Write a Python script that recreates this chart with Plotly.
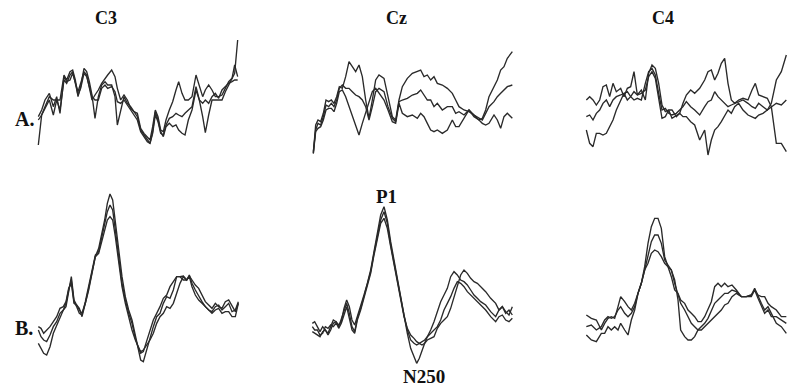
import plotly.graph_objects as go

# ---------------- DATA (sample position, amplitude readings; larger value = lower on page) -------------
# Row A: single-trial / raw averages
c3_a_t = [115,125,135,148,160,170,180,192,200,210,218,226,234,242,252,260,268,276,285,295,
          305,315,323,335,345,352,362,372,382,392,402,412,422,432,442,450,458,466,474,482,
          490,498,508,518,528,536,546,555,565,576,588,598,608,616,626,636,646,656,666,676,
          686,696,704,713]
c3_a_1 = [435,345,320,290,300,300,300,225,240,215,210,240,290,260,205,215,245,285,355,290,
          255,245,255,255,290,375,330,290,310,320,335,350,390,405,420,430,395,335,360,395,
          410,380,370,380,375,390,400,405,360,330,270,300,350,398,345,300,300,300,300,275,
          255,240,220,120]
c3_a_2 = [350,330,300,280,320,290,340,230,245,240,220,245,275,250,215,225,260,300,285,270,
          250,235,225,210,230,265,300,285,300,325,335,340,385,400,410,420,380,330,350,390,
          395,360,330,305,270,245,280,300,300,290,225,255,290,270,255,270,290,290,285,265,
          245,235,195,230]
c3_a_3 = [360,345,325,300,345,300,330,240,250,225,215,250,285,265,220,230,265,290,300,300,
          265,255,265,260,275,305,310,300,315,330,345,360,395,410,425,430,400,345,365,400,
          405,375,355,350,340,345,350,340,330,320,260,300,310,300,310,290,280,295,270,260,
          250,245,240,240]

cz_a_t = [148,155,162,170,178,186,194,202,210,218,226,235,245,255,265,275,285,295,305,315,
          325,335,345,360,372,385,395,405,415,430,445,460,470,480,490,500,510,520,535,550,
          565,575,585,600,615,630,645,655,665,675,690,700,710,720,730,745]
cz_a_1 = [460,375,360,365,340,300,305,300,310,290,260,265,230,185,200,215,195,230,300,355,
          300,240,225,235,290,350,360,300,260,235,220,215,210,230,225,240,230,250,255,265,
          280,300,320,330,335,345,360,355,330,290,260,240,210,200,175,155]
cz_a_2 = [455,390,370,375,350,315,320,310,320,300,265,255,265,265,275,285,290,300,320,360,
          320,275,265,275,320,355,365,305,300,295,285,280,270,285,300,300,320,310,330,320,
          320,340,335,345,330,345,355,360,340,320,305,290,280,270,260,255]
cz_a_3 = [460,395,385,380,360,330,325,325,335,310,275,270,290,320,350,380,405,370,340,310,
          275,265,280,300,330,365,370,310,340,350,345,355,340,350,370,390,395,390,400,390,
          360,380,380,355,330,350,360,370,375,370,345,360,385,350,340,355]

c4_a_t = [175,185,195,205,215,225,235,245,255,265,278,288,298,308,318,328,340,352,362,372,
          382,392,402,412,422,432,445,455,465,475,488,500,515,530,540,550,560,570,580,590,
          600,610,620,632,645,660,672,682,692,705,718,730,745,760,775]
c4_a_1 = [300,290,300,315,300,260,255,290,250,275,265,290,265,260,215,285,270,300,220,195,
          205,250,315,335,330,330,350,340,310,285,270,280,265,240,215,210,240,220,190,175,
          250,300,310,300,295,300,270,250,285,290,295,320,430,430,455]
c4_a_2 = [350,345,360,340,330,310,300,320,300,290,285,280,275,290,300,295,300,250,215,205,
          225,280,330,325,340,345,340,330,320,305,320,330,345,320,305,300,275,290,300,310,
          320,315,310,305,300,310,320,325,310,320,330,310,240,215,165]
c4_a_3 = [390,430,440,400,400,405,400,380,360,330,300,280,300,290,275,285,280,270,230,215,
          235,300,355,350,330,355,345,340,350,350,365,375,420,390,465,420,390,380,365,345,
          330,340,320,310,330,345,350,355,345,340,330,320,310,315,300]

# Row B: grand averages
c3_b_t = [115,123,131,140,150,160,170,180,190,198,206,214,222,230,238,246,256,266,276,286,
          296,306,314,322,330,338,346,356,366,376,386,396,406,414,422,430,440,450,460,470,
          480,490,500,510,520,530,540,550,560,568,576,586,596,606,616,626,636,646,656,666,
          676,686,696,706,715]
c3_b_1 = [520,535,550,555,530,490,465,440,420,410,370,320,390,405,420,430,400,355,310,260,
          235,190,150,100,72,90,160,250,320,380,420,450,500,540,570,575,540,500,470,440,
          430,400,380,385,360,320,320,330,330,315,340,360,380,395,410,420,425,410,405,420,
          410,400,425,420,395]
c3_b_2 = [480,500,510,515,495,470,455,430,420,400,360,330,395,410,430,435,395,350,300,255,
          245,200,165,125,105,120,180,270,340,390,430,460,505,530,550,545,515,480,450,430,
          410,385,375,350,335,320,320,318,330,318,330,345,355,375,395,405,415,400,410,415,
          395,390,410,425,400]
c3_b_3 = [470,475,490,480,470,455,440,415,410,395,355,340,400,405,415,440,400,360,310,260,
          250,210,180,150,140,150,200,280,350,400,440,480,510,530,545,540,525,510,490,460,
          440,430,410,415,400,370,340,320,330,320,350,375,390,400,410,420,430,420,415,430,
          425,425,440,440,400]

cz_b_t = [145,152,160,168,176,184,192,200,208,216,224,232,240,248,256,264,272,280,290,300,
          310,320,330,340,350,360,370,380,390,400,410,420,430,440,450,458,466,474,482,490,
          500,510,520,530,540,550,560,570,580,590,600,610,620,630,640,650,665,680,695,705,
          715,725,735,745]
cz_b_1 = [460,455,470,485,470,480,495,480,460,455,465,455,415,390,410,450,465,440,410,375,
          340,300,245,190,135,110,150,215,270,330,380,430,490,535,560,580,565,540,520,500,
          480,455,425,395,375,355,320,305,315,330,335,345,360,375,385,395,405,425,440,420,
          410,425,435,410]
cz_b_2 = [470,480,480,495,490,470,475,465,470,460,470,445,425,400,430,470,485,445,415,380,
          345,305,250,195,150,125,160,225,280,335,385,435,480,510,520,525,520,515,510,500,
          490,480,470,450,420,400,380,355,335,340,350,365,375,385,395,405,420,440,455,440,
          435,450,455,445]
cz_b_3 = [485,490,495,500,485,480,490,470,450,455,475,460,435,410,445,480,490,450,420,385,
          350,310,255,205,160,145,175,230,285,340,390,440,475,495,505,515,520,525,520,510,
          505,500,475,460,450,440,415,380,345,315,300,310,325,335,340,350,365,385,400,420,
          410,430,420,435]

c4_b_t = [175,190,205,220,230,240,250,260,270,278,290,300,310,320,330,340,350,360,370,380,
          390,400,410,420,430,440,450,458,470,480,490,500,510,520,530,540,550,560,570,580,
          590,600,612,625,640,655,670,680,690,700,710,720,730,745,760,775]
c4_b_1 = [435,445,450,480,460,445,440,445,410,380,395,410,420,400,370,340,290,220,170,145,
          145,175,260,290,300,330,390,480,500,510,510,500,480,470,460,445,420,400,390,380,
          370,370,360,365,380,380,375,355,380,400,420,410,430,460,470,490]
c4_b_2 = [470,465,480,470,450,440,445,440,420,410,430,440,430,410,370,340,300,260,215,195,
          195,220,270,285,300,340,370,400,420,440,460,470,480,480,470,460,450,440,430,420,
          405,400,380,370,380,380,375,360,385,410,430,420,440,440,450,460]
c4_b_3 = [495,510,515,490,490,470,480,470,480,460,480,495,450,420,370,340,300,280,250,240,
          245,260,280,290,320,360,370,390,400,420,430,440,455,455,440,420,395,350,340,350,
          340,350,345,360,380,380,380,360,375,380,380,400,410,420,440,440]

electrodes = ["C3", "Cz", "C4"]
row_labels = ["A.", "B."]
peak_labels = ["P1", "N250"]

# ---------------- FIGURE ----------------
W, H = 792, 391
fig = go.Figure()

panels = [
    (0, 0, c3_a_t, [c3_a_1, c3_a_2, c3_a_3]),
    (0, 1, cz_a_t, [cz_a_1, cz_a_2, cz_a_3]),
    (0, 2, c4_a_t, [c4_a_1, c4_a_2, c4_a_3]),
    (1, 0, c3_b_t, [c3_b_1, c3_b_2, c3_b_3]),
    (1, 1, cz_b_t, [cz_b_1, cz_b_2, cz_b_3]),
    (1, 2, c4_b_t, [c4_b_1, c4_b_2, c4_b_3]),
]

row_px = [(0, 160), (170, 391)]
col_w = 264
layout_axes = {}
for i, (r, c, t, ys) in enumerate(panels, start=1):
    for y in ys:
        fig.add_trace(go.Scatter(
            x=t, y=y, mode="lines",
            line=dict(color="#2a2a2a", width=1.35, shape="linear"),
            xaxis=f"x{i}", yaxis=f"y{i}", hoverinfo="skip", showlegend=False))
    top, bot = row_px[r]
    xk = "xaxis" if i == 1 else f"xaxis{i}"
    yk = "yaxis" if i == 1 else f"yaxis{i}"
    layout_axes[xk] = dict(domain=[c * col_w / W, (c + 1) * col_w / W], range=[0, 3 * col_w],
                           visible=False, anchor=f"y{i}", fixedrange=True)
    layout_axes[yk] = dict(domain=[1 - bot / H, 1 - top / H], range=[3 * (bot - top), 0],
                           visible=False, anchor=f"x{i}", fixedrange=True)

fig.update_layout(**layout_axes)

serif = "Liberation Serif, Times New Roman, serif"
ann = []
for name, cx in zip(electrodes, [106, 396, 663]):
    ann.append(dict(text=f"<b>{name}</b>", x=cx / W, y=1 - 18 / H, xref="paper", yref="paper",
                    showarrow=False, font=dict(family=serif, size=18, color="#111"),
                    xanchor="center", yanchor="middle"))
for lab, cy in zip(row_labels, [119, 328]):
    ann.append(dict(text=f"<b>{lab}</b>", x=24 / W, y=1 - cy / H, xref="paper", yref="paper",
                    showarrow=False, font=dict(family=serif, size=20, color="#111"),
                    xanchor="center", yanchor="middle"))
for lab, px, py, sz in zip(peak_labels, [386, 424], [196, 376], [19, 19]):
    ann.append(dict(text=f"<b>{lab}</b>", x=px / W, y=1 - py / H, xref="paper", yref="paper",
                    showarrow=False, font=dict(family=serif, size=sz, color="#111"),
                    xanchor="center", yanchor="middle"))

fig.update_layout(width=W, height=H, margin=dict(l=0, r=0, t=0, b=0),
                  paper_bgcolor="white", plot_bgcolor="white", showlegend=False,
                  annotations=ann)

fig.write_html("out.html", config={"displayModeBar": False})
